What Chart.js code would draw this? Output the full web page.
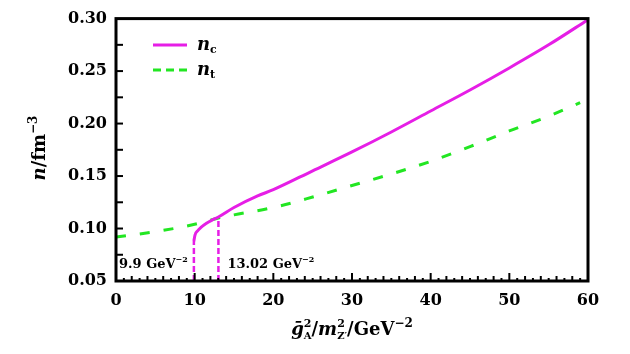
<!DOCTYPE html>
<html lang="en">
<head>
<meta charset="UTF-8">
<title>n_c and n_t vs coupling</title>
<script src="https://cdn.jsdelivr.net/npm/chart.js"></script>
<style>
  html, body { margin: 0; padding: 0; background: #fff; }
  .box { width: 630px; height: 354px; }
</style>
</head>
<body>
<div class="box"><canvas id="myChart" width="630" height="354"></canvas></div>
<script>
  // values
  const ncX = [9.9, 10.05, 10.4, 10.8, 11.5, 12.2, 13.02, 15, 18, 20, 25, 30, 35, 40, 45, 50, 55, 60];
  const ncY = [0.088, 0.094, 0.098, 0.101, 0.105, 0.108, 0.111, 0.120, 0.131, 0.137, 0.155, 0.173, 0.192, 0.212, 0.232, 0.253, 0.275, 0.299];
  const ntX = [0, 5, 10, 13.02, 15, 20, 25, 30, 35, 40, 45, 50, 55, 59];
  const ntY = [0.092, 0.097, 0.104, 0.110, 0.113, 0.120, 0.130, 0.141, 0.152, 0.164, 0.178, 0.193, 0.207, 0.220];
  const markX = [9.9, 13.02];
  const markY = [0.088, 0.111];
  const markLabels = ['9.9 GeV', '13.02 GeV'];

  const MAG = '#e61ee6';
  const GRN = '#22e622';
  const FAM = "'DejaVu Serif', serif";

  const toPts = (xs, ys) => xs.map((x, i) => ({x: x, y: ys[i]}));

  // draw a run of text pieces; piece: {t, size, style, dy, stack}
  function rich(ctx, x, y, parts, align) {
    const widths = parts.map(p => {
      ctx.font = (p.style || 'bold') + ' ' + p.size + 'px ' + FAM;
      return ctx.measureText(p.t).width;
    });
    let total = 0, i = 0;
    while (i < parts.length) {
      if (parts[i + 1] && parts[i + 1].stack) { total += Math.max(widths[i], widths[i + 1]); i += 2; }
      else { total += widths[i]; i++; }
    }
    let cx = align === 'center' ? x - total / 2 : x;
    ctx.textBaseline = 'alphabetic';
    ctx.textAlign = 'left';
    i = 0;
    while (i < parts.length) {
      const p = parts[i];
      ctx.font = (p.style || 'bold') + ' ' + p.size + 'px ' + FAM;
      ctx.fillText(p.t, cx + (p.dx || 0), y + (p.dy || 0));
      if (parts[i + 1] && parts[i + 1].stack) {
        const q = parts[i + 1];
        ctx.font = (q.style || 'bold') + ' ' + q.size + 'px ' + FAM;
        ctx.fillText(q.t, cx + (q.dx || 0), y + (q.dy || 0));
        cx += Math.max(widths[i], widths[i + 1]);
        i += 2;
      } else { cx += widths[i]; i++; }
    }
  }

  const decor = {
    id: 'decor',
    afterDraw(chart) {
      const ctx = chart.ctx;
      const a = chart.chartArea;
      const xs = chart.scales.x, ys = chart.scales.y;
      ctx.save();
      ctx.fillStyle = '#000';
      ctx.strokeStyle = '#000';

      // inward ticks
      ctx.lineWidth = 2;
      for (let v = 1; v < 60; v++) {
        const px = xs.getPixelForValue(v);
        const len = v % 10 === 0 ? 8 : (v % 2 === 0 ? 5 : 3);
        ctx.beginPath(); ctx.moveTo(px, a.bottom); ctx.lineTo(px, a.bottom - len); ctx.stroke();
      }
      for (let k = 1; k < 10; k++) {
        const py = ys.getPixelForValue(0.05 + k * 0.025);
        ctx.beginPath(); ctx.moveTo(a.left, py); ctx.lineTo(a.left + 7, py); ctx.stroke();
      }

      // frame
      ctx.lineWidth = 3;
      ctx.strokeRect(a.left, a.top, a.right - a.left, a.bottom - a.top);

      // marker labels
      markX.forEach((v, i) => {
        const px = xs.getPixelForValue(v);
        const tx = i === 0 ? a.left + 3 : px + 9;
        rich(ctx, tx, a.bottom - 13, [
          {t: markLabels[i], size: 13},
          {t: '\u22122', size: 8, dy: -6}
        ]);
      });

      // legend
      const lx0 = 153, lx1 = 187;
      ctx.lineWidth = 3;
      ctx.strokeStyle = MAG;
      ctx.beginPath(); ctx.moveTo(lx0, 45); ctx.lineTo(lx1, 45); ctx.stroke();
      ctx.strokeStyle = GRN;
      ctx.setLineDash([8, 5]);
      ctx.beginPath(); ctx.moveTo(lx0, 70); ctx.lineTo(lx1, 70); ctx.stroke();
      ctx.setLineDash([]);
      rich(ctx, 197, 50, [{t: 'n', size: 18, style: 'italic bold'}, {t: 'c', size: 11, dy: 3}]);
      rich(ctx, 197, 75, [{t: 'n', size: 18, style: 'italic bold'}, {t: 't', size: 11, dy: 3}]);

      // y title
      ctx.save();
      ctx.translate(45, 148);
      ctx.rotate(-Math.PI / 2);
      rich(ctx, 0, 0, [
        {t: 'n', size: 18, style: 'italic bold'},
        {t: '/fm', size: 18},
        {t: '\u22123', size: 12, dy: -8}
      ], 'center');
      ctx.restore();

      // x title
      rich(ctx, 352, 335, [
        {t: '\u1E21', size: 18, style: 'italic bold'},
        {t: '2', size: 11, dy: -8},
        {t: 'A', size: 10, dy: 4, stack: true},
        {t: '/', size: 18},
        {t: 'm', size: 18, style: 'italic bold'},
        {t: '2', size: 11, dy: -8},
        {t: 'Z\u2032', size: 10, dy: 4, stack: true},
        {t: '/GeV', size: 18},
        {t: '\u22122', size: 12, dy: -8}
      ], 'center');
      ctx.restore();
    }
  };

  const ctx = document.getElementById('myChart').getContext('2d');
  const myChart = new Chart(ctx, {
    type: 'scatter',
    data: {
      datasets: [
        {
          label: 'n_c',
          data: toPts(ncX, ncY),
          showLine: true,
          borderColor: MAG,
          borderWidth: 3,
          pointRadius: 0,
          cubicInterpolationMode: 'monotone',
          fill: false
        },
        {
          label: 'n_t',
          data: toPts(ntX, ntY),
          showLine: true,
          borderColor: GRN,
          borderWidth: 3,
          borderDash: [10, 14],
          pointRadius: 0,
          cubicInterpolationMode: 'monotone',
          fill: false
        },
        {
          label: 'mark1',
          data: [{x: markX[0], y: 0.05}, {x: markX[0], y: markY[0]}],
          showLine: true,
          borderColor: MAG,
          borderWidth: 2.5,
          borderDash: [6, 3],
          pointRadius: 0
        },
        {
          label: 'mark2',
          data: [{x: markX[1], y: 0.05}, {x: markX[1], y: markY[1]}],
          showLine: true,
          borderColor: MAG,
          borderWidth: 2.5,
          borderDash: [6, 3],
          pointRadius: 0
        }
      ]
    },
    options: {
      responsive: false,
      animation: false,
      layout: { padding: { top: 16, right: 42, left: 0, bottom: 0 } },
      plugins: { legend: { display: false }, tooltip: { enabled: false } },
      scales: {
        x: {
          type: 'linear',
          min: 0, max: 60,
          grid: { display: false, drawTicks: false },
          border: { display: false },
          afterFit: s => { s.height = 73; },
          ticks: {
            stepSize: 10,
            padding: 10,
            color: '#000',
            font: { family: FAM, size: 16, weight: 'bold' }
          }
        },
        y: {
          type: 'linear',
          min: 0.05, max: 0.30,
          grid: { display: false, drawTicks: false },
          border: { display: false },
          afterFit: s => { s.width = 116; },
          ticks: {
            stepSize: 0.05,
            padding: 9,
            color: '#000',
            font: { family: FAM, size: 16, weight: 'bold' },
            callback: v => v.toFixed(2)
          }
        }
      }
    },
    plugins: [decor]
  });
</script>
</body>
</html>
